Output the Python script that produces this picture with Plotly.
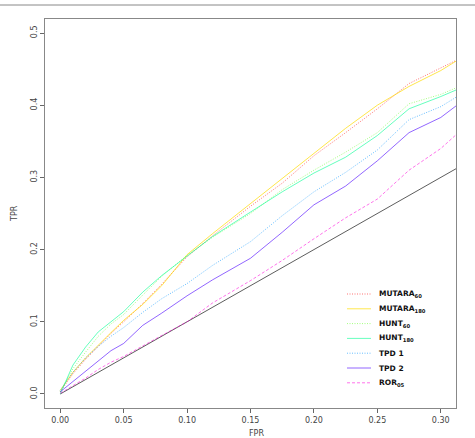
import plotly.graph_objects as go

fpr = [0, 0.005, 0.01, 0.02, 0.03, 0.04, 0.05, 0.065, 0.08, 0.1, 0.12, 0.15, 0.175,
       0.2, 0.225, 0.25, 0.275, 0.3, 0.312]

mutara60 = [0.003, 0.016, 0.028, 0.048, 0.066, 0.084, 0.100, 0.125, 0.152, 0.190, 0.219,
            0.260, 0.292, 0.330, 0.362, 0.395, 0.430, 0.452, 0.462]
mutara180 = [0.005, 0.018, 0.030, 0.050, 0.068, 0.085, 0.102, 0.124, 0.150, 0.193, 0.222,
             0.264, 0.298, 0.333, 0.368, 0.400, 0.426, 0.448, 0.461]
hunt60 = [0.003, 0.020, 0.035, 0.058, 0.080, 0.097, 0.110, 0.137, 0.163, 0.192, 0.217,
          0.250, 0.283, 0.310, 0.335, 0.362, 0.402, 0.415, 0.424]
hunt180 = [0.000, 0.020, 0.040, 0.065, 0.086, 0.100, 0.114, 0.141, 0.164, 0.191, 0.218,
           0.252, 0.280, 0.306, 0.328, 0.358, 0.395, 0.412, 0.421]
tpd1 = [0.005, 0.018, 0.030, 0.050, 0.066, 0.080, 0.092, 0.113, 0.132, 0.153, 0.178,
        0.211, 0.247, 0.280, 0.307, 0.338, 0.380, 0.398, 0.411]
tpd2 = [0.003, 0.010, 0.018, 0.032, 0.045, 0.060, 0.070, 0.095, 0.112, 0.136, 0.158,
        0.188, 0.224, 0.262, 0.288, 0.323, 0.362, 0.383, 0.399]
ror05 = [0.001, 0.006, 0.011, 0.022, 0.034, 0.044, 0.052, 0.066, 0.081, 0.100, 0.126,
         0.157, 0.185, 0.215, 0.244, 0.270, 0.310, 0.340, 0.359]

diag_x = [0, 0.4]
diag_y = [0, 0.4]

names = ["<b>MUTARA<sub>60</sub></b>", "<b>MUTARA<sub>180</sub></b>", "<b>HUNT<sub>60</sub></b>",
         "<b>HUNT<sub>180</sub></b>", "<b>TPD 1</b>", "<b>TPD 2</b>", "<b>ROR<sub>05</sub></b>"]
series = [mutara60, mutara180, hunt60, hunt180, tpd1, tpd2, ror05]
colors = ["rgba(255,0,0,0.55)", "rgba(255,219,0,0.7)", "rgba(73,255,0,0.5)",
          "rgba(0,255,146,0.6)", "rgba(0,146,255,0.6)", "rgba(73,0,255,0.6)",
          "rgba(255,0,219,0.55)"]
dashes = ["1px,1.5px", "solid", "1px,1.5px", "solid", "1px,1.5px", "solid", "3px,2px"]

W, H = 475, 438
ML, MR, MT, MB = 45, 19, 19, 30
PW, PH = W - ML - MR, H - MT - MB


def px(xp):
    return (xp - ML) / PW


def py(yp):
    return (H - MB - yp) / PH


fig = go.Figure()
fig.add_trace(go.Scatter(x=diag_x, y=diag_y, mode="lines", showlegend=False,
                         line=dict(color="#333333", width=0.8)))
for n, s, c, d in zip(names, series, colors, dashes):
    fig.add_trace(go.Scatter(x=fpr, y=s, mode="lines", name=n, showlegend=False,
                             line=dict(color=c, width=1, dash=d)))

shapes = [dict(type="line", xref="paper", yref="paper", x0=px(0), x1=px(W),
               y0=py(5), y1=py(5), line=dict(color="#888888", width=1))]
annotations = []
for i, (n, c, d) in enumerate(zip(names, colors, dashes)):
    yrow = 294 + i * 14.8
    shapes.append(dict(type="line", xref="paper", yref="paper", x0=px(347), x1=px(371),
                       y0=py(yrow), y1=py(yrow), line=dict(color=c, width=1, dash=d)))
    annotations.append(dict(text=n, xref="paper", yref="paper", x=px(377), y=py(yrow),
                            xanchor="left", yanchor="middle", showarrow=False,
                            font=dict(family="DejaVu Sans", size=7.5, color="#111111")))

axfont = dict(family="DejaVu Sans", size=8, color="#444444")
annotations.append(dict(text="FPR", xref="paper", yref="paper", x=px(256), y=py(433),
                        xanchor="center", yanchor="middle", showarrow=False, font=axfont))
annotations.append(dict(text="TPR", xref="paper", yref="paper", x=px(14), y=py(213),
                        xanchor="center", yanchor="middle", showarrow=False, font=axfont,
                        textangle=-90))

fig.update_layout(
    width=W, height=H,
    margin=dict(l=ML, r=MR, t=MT, b=MB),
    paper_bgcolor="white", plot_bgcolor="white",
    showlegend=False,
    xaxis=dict(range=[-0.012, 0.312], tickvals=[0, 0.05, 0.1, 0.15, 0.2, 0.25, 0.3],
               tickformat=".2f", ticks="outside", ticklen=4, tickcolor="#666666",
               showline=True, mirror=True, linecolor="#888888", linewidth=1,
               showgrid=False, zeroline=False, tickfont=axfont, automargin=False),
    yaxis=dict(range=[-0.0194, 0.5194], tickvals=[0, 0.1, 0.2, 0.3, 0.4, 0.5],
               tickformat=".1f", ticks="outside", ticklen=4, tickcolor="#666666",
               tickangle=-90,
               showline=True, mirror=True, linecolor="#888888", linewidth=1,
               showgrid=False, zeroline=False, tickfont=axfont, automargin=False),
    shapes=shapes,
    annotations=annotations,
)
fig.write_html("out.html")
